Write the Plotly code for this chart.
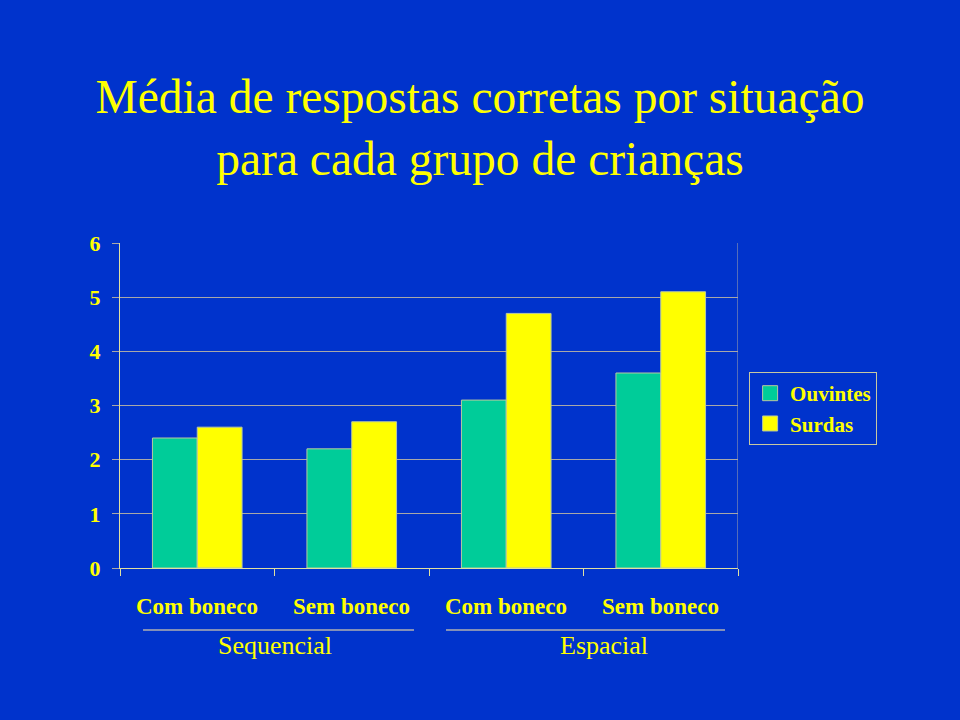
import plotly.graph_objects as go

categories = ["Com boneco", "Sem boneco", "Com boneco", "Sem boneco"]
groups = ["Sequencial", "Espacial"]
ouvintes = [2.4, 2.2, 3.1, 3.6]
surdas = [2.6, 2.7, 4.7, 5.1]
y_ticks = [0, 1, 2, 3, 4, 5, 6]
title_lines = ["Média de respostas corretas por situação", "para cada grupo de crianças"]

BG = "#0033CC"
YEL = "#FFFF00"
GRN = "#00CC99"
GRID = "#A8A8A8"
AXIS = "#E0E0A0"
EDGE = "#B8C8A0"
FONT = "Liberation Serif"

xpos = list(range(len(categories)))

fig = go.Figure()
fig.add_trace(go.Bar(x=xpos, y=ouvintes, name="Ouvintes", showlegend=False,
                     marker=dict(color=GRN, line=dict(color=EDGE, width=1))))
fig.add_trace(go.Bar(x=xpos, y=surdas, name="Surdas", showlegend=False,
                     marker=dict(color=YEL, line=dict(color=EDGE, width=1))))
# legend entries with larger square swatches
for name, col in [("Ouvintes", GRN), ("Surdas", YEL)]:
    fig.add_trace(go.Scatter(x=[None], y=[None], mode="markers", name="<b>%s</b>" % name,
                             marker=dict(symbol="square", size=15, color=col,
                                         line=dict(color=EDGE, width=1))))

fig.update_layout(
    width=960, height=720,
    paper_bgcolor=BG, plot_bgcolor=BG,
    margin=dict(l=120, r=222, t=243, b=152),
    barmode="group", bargap=0.42, bargroupgap=0,
    title=dict(text="<br>".join(title_lines),
               x=0.5, xref="container", xanchor="center",
               y=1 - 113 / 720, yref="container", yanchor="top",
               font=dict(family=FONT, size=47.5, color=YEL)),
    showlegend=True,
    legend=dict(x=1.018, y=0.603, xanchor="left", yanchor="top",
                bgcolor=BG, bordercolor="#C8C8A0", borderwidth=1,
                font=dict(family=FONT, size=21, color=YEL),
                itemwidth=30),
    font=dict(family=FONT, color=YEL),
)

fig.update_yaxes(range=[0, 6], tickvals=y_ticks, ticktext=["<b>%d</b>" % v for v in y_ticks],
                 showgrid=True, gridcolor=GRID, gridwidth=1,
                 zeroline=False, showline=True, linecolor=AXIS, linewidth=1,
                 ticks="outside", ticklen=7, tickcolor=GRID,
                 tickfont=dict(family=FONT, size=22, color=YEL),
                 ticklabelstandoff=7)
fig.update_xaxes(range=[-0.5, 3.5], tickvals=[-0.5, 0.5, 1.5, 2.5, 3.5],
                 showticklabels=False, ticks="outside", ticklen=7, tickcolor=AXIS,
                 showline=True, linecolor=AXIS, linewidth=1, showgrid=False, zeroline=False)

# right border
fig.add_shape(type="line", xref="x", yref="paper", x0=3.5, x1=3.5, y0=0, y1=1,
              line=dict(color=GRID, width=1))

# category labels
for i, c in enumerate(categories):
    fig.add_annotation(x=i, y=-38 / 325, xref="x", yref="paper", text="<b>%s</b>" % c,
                       showarrow=False, yanchor="middle",
                       font=dict(family=FONT, size=23, color=YEL))

# group labels and lines
group_spans = [(-0.351, 1.403), (1.61, 3.416)]
group_centers = [0.5, 2.63]
for g, (a, b), cx in zip(groups, group_spans, group_centers):
    fig.add_shape(type="line", xref="x", yref="paper", x0=a, x1=b,
                  y0=-62 / 325, y1=-62 / 325, line=dict(color="#B0B0B0", width=1.5))
    fig.add_annotation(x=cx, y=-77 / 325, xref="x", yref="paper", text=g,
                       showarrow=False, yanchor="middle",
                       font=dict(family=FONT, size=26, color=YEL))

fig.write_html("out.html")
